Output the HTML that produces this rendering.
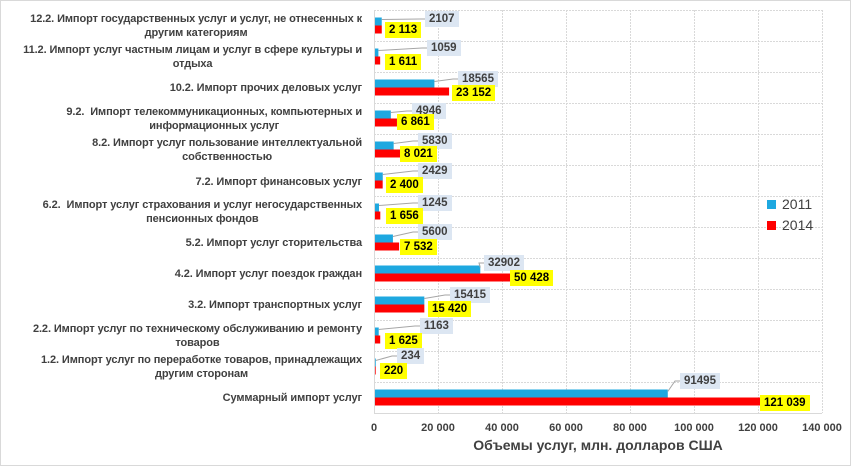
<!DOCTYPE html>
<html><head><meta charset="utf-8"><style>
body{margin:0;background:#fff}
#c{position:relative;width:851px;height:466px;overflow:hidden;font-family:"Liberation Sans",Arial,sans-serif;font-weight:bold;color:#404040}
.cat{position:absolute;right:489px;font-size:11px;line-height:14px;text-align:center;white-space:nowrap;transform:translateY(-50%);letter-spacing:-0.1px}
.b{position:absolute;font-size:11.5px;line-height:16px;height:16px;padding:0 4px;transform:translateY(-50%);white-space:nowrap}
.bl{background:#dce6f2;color:#404040}
.yl{background:#ffff00;color:#000}
.t{position:absolute;top:422px;font-size:11px;transform:translateX(-50%);white-space:nowrap}
</style></head><body><div id="c">
<svg width="851" height="466" style="position:absolute;left:0;top:0">
<rect x="0.5" y="0.5" width="850" height="465" fill="none" stroke="#d9d9d9"/>
<g stroke="#d9d9d9" stroke-width="1">
<line x1="374.5" y1="10" x2="374.5" y2="413"/>
<line x1="438.5" y1="10" x2="438.5" y2="413" stroke-dasharray="2,1"/>
<line x1="502.5" y1="10" x2="502.5" y2="413" stroke-dasharray="2,1"/>
<line x1="566.5" y1="10" x2="566.5" y2="413" stroke-dasharray="2,1"/>
<line x1="630.5" y1="10" x2="630.5" y2="413" stroke-dasharray="2,1"/>
<line x1="694.5" y1="10" x2="694.5" y2="413" stroke-dasharray="2,1"/>
<line x1="758.5" y1="10" x2="758.5" y2="413" stroke-dasharray="2,1"/>
<line x1="822.5" y1="10" x2="822.5" y2="413" stroke-dasharray="2,1"/>
<g stroke-dasharray="2,1">
<line x1="374" y1="10.5" x2="822" y2="10.5"/><line x1="374" y1="41.5" x2="822" y2="41.5"/><line x1="374" y1="72.5" x2="822" y2="72.5"/><line x1="374" y1="103.5" x2="822" y2="103.5"/><line x1="374" y1="134.5" x2="822" y2="134.5"/><line x1="374" y1="165.5" x2="822" y2="165.5"/><line x1="374" y1="196.5" x2="822" y2="196.5"/><line x1="374" y1="227.5" x2="822" y2="227.5"/><line x1="374" y1="258.5" x2="822" y2="258.5"/><line x1="374" y1="289.5" x2="822" y2="289.5"/><line x1="374" y1="320.5" x2="822" y2="320.5"/><line x1="374" y1="351.5" x2="822" y2="351.5"/><line x1="374" y1="382.5" x2="822" y2="382.5"/></g>
<line x1="374" y1="413.5" x2="822" y2="413.5"/>
</g>
<g id="bars"></g>
<rect x="767" y="200" width="9" height="9" fill="#1ea8e0"/>
<rect x="767" y="221" width="9" height="9" fill="#ff0000"/>
</svg>
<div style="position:absolute;left:782px;top:196px;font-size:14px;font-weight:normal;color:#404040">2011</div>
<div style="position:absolute;left:782px;top:217px;font-size:14px;font-weight:normal;color:#404040">2014</div>
<div id="labels"></div>
<div class="t" style="left:374px">0</div>
<div class="t" style="left:438px">20 000</div>
<div class="t" style="left:502px">40 000</div>
<div class="t" style="left:566px">60 000</div>
<div class="t" style="left:630px">80 000</div>
<div class="t" style="left:694px">100 000</div>
<div class="t" style="left:758px">120 000</div>
<div class="t" style="left:822px">140 000</div>
<div style="position:absolute;left:598px;top:437px;transform:translateX(-50%);font-size:14px;white-space:nowrap">Объемы услуг, млн. долларов США</div>
<div class="cat" style="top:26px">12.2. Импорт государственных услуг и услуг, не отнесенных к<br>другим категориям</div>
<div class="cat" style="top:57px">11.2. Импорт услуг частным лицам и услуг в сфере культуры и<br>отдыха</div>
<div class="cat" style="top:88px">10.2. Импорт прочих деловых услуг</div>
<div class="cat" style="top:119px">9.2. &nbsp;Импорт телекоммуникационных, компьютерных и<br>информационных услуг</div>
<div class="cat" style="top:150px">8.2. Импорт услуг пользование интеллектуальной<br>собственностью</div>
<div class="cat" style="top:182px">7.2. Импорт финансовых услуг</div>
<div class="cat" style="top:212px">6.2. &nbsp;Импорт услуг страхования и услуг негосударственных<br>пенсионных фондов</div>
<div class="cat" style="top:243px">5.2. Импорт услуг сторительства</div>
<div class="cat" style="top:274px">4.2. Импорт услуг поездок граждан</div>
<div class="cat" style="top:305px">3.2. Импорт транспортных услуг</div>
<div class="cat" style="top:336px">2.2. Импорт услуг по техническому обслуживанию и ремонту<br>товаров</div>
<div class="cat" style="top:367px">1.2. Импорт услуг по переработке товаров, принадлежащих<br>другим сторонам</div>
<div class="cat" style="top:398px">Суммарный импорт услуг</div>
</div>
<script>
var d=[[2107,2113,"2 113",425,19,385,30],[1059,1611,"1 611",427,48,385,62],[18565,23152,"23 152",458,79,452,93],[4946,6861,"6 861",412,111,397,122],[5830,8021,"8 021",418,141,400,154],[2429,2400,"2 400",418,171,386,185],[1245,1656,"1 656",418,203,386,216],[5600,7532,"7 532",418,232,400,247],[32902,50428,"50 428",484,263,510,278],[15415,15420,"15 420",450,295,428,309],[1163,1625,"1 625",420,326,385,341],[234,220,"220",397,356,380,371],[91495,121039,"121 039",680,381,760,403]];
var s="",h="";
d.forEach(function(r,i){var c=10+31*(i+0.5);var w1=r[0]*0.0032,w2=r[1]*0.0032;
s+='<rect x="375" y="'+(c-8)+'" width="'+w1+'" height="8" fill="#1ea8e0"/><rect x="375" y="'+c+'" width="'+w2+'" height="8" fill="#ff0000"/>';
s+='<polyline points="'+(375+w1)+','+(c-6)+' '+(r[3]-5)+','+r[4]+' '+r[3]+','+r[4]+'" fill="none" stroke="#a6a6a6"/>';
h+='<div class="b bl" style="left:'+r[3]+'px;top:'+r[4]+'px">'+r[0]+'</div><div class="b yl" style="left:'+r[5]+'px;top:'+r[6]+'px">'+r[2]+'</div>';});
document.getElementById("bars").innerHTML=s;document.getElementById("labels").innerHTML=h;
</script>
</body></html>
